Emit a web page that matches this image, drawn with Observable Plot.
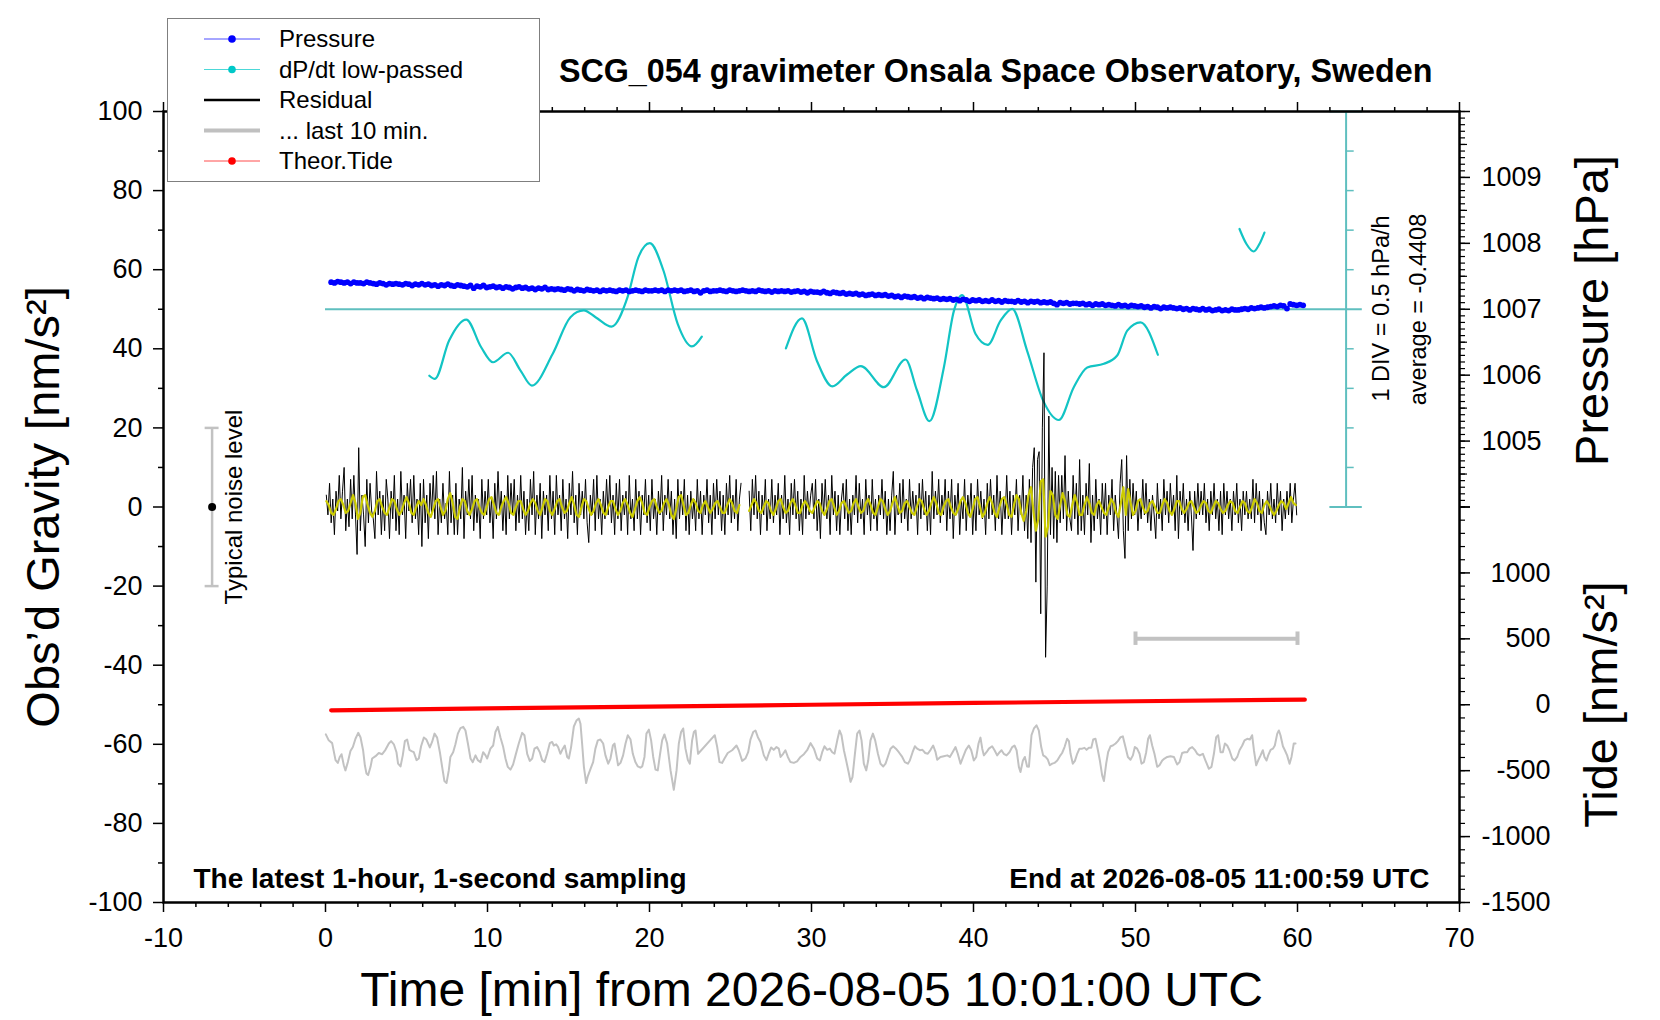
<!DOCTYPE html>
<html>
<head>
<meta charset="utf-8">
<script src="https://cdn.jsdelivr.net/npm/d3@7"></script>
<script src="https://cdn.jsdelivr.net/npm/@observablehq/plot@0.6"></script>
<style>
  body { margin: 0; background: #fff; }
  #wrap { position: relative; width: 1660px; height: 1020px; font-family: "Liberation Sans", Arial, Helvetica, sans-serif; }
  #legend { position: absolute; left: 167px; top: 18px; width: 371px; height: 162px; border: 1px solid #7f7f7f; background: #fff; }
  #legend svg { display: block; }
</style>
</head>
<body>
<div id="wrap"></div>
<script>
// ---------------- DATA ----------------
const titleText = "SCG_054 gravimeter Onsala Space Observatory, Sweden";
const xLabel = "Time [min] from 2026-08-05 10:01:00 UTC";
const yLabel = "Obs\u2019d Gravity [nm/s\u00B2]";
const pressureLabel = "Pressure [hPa]";
const tideLabel = "Tide [nm/s\u00B2]";
const leftNote = "The latest 1-hour, 1-second sampling";
const rightNote = "End at 2026-08-05 11:00:59 UTC";
const divNote = "1 DIV = 0.5 hPa/h";
const avgNote = "average = -0.4408";
const noiseNote = "Typical noise level";

const gravityTicks = [-100, -80, -60, -40, -20, 0, 20, 40, 60, 80, 100];
const gravityMinorTicks = [-90, -70, -50, -30, -10, 10, 30, 50, 70, 90];
const timeTicks = [-10, 0, 10, 20, 30, 40, 50, 60, 70];
const timeMinorTicks = d3.range(-10, 70.01, 2).filter(d => d % 10 !== 0);
const pressureTicks = [1005, 1006, 1007, 1008, 1009];
const pressureEndTicks = [1004, 1010];
const tideTicks = [-1500, -1000, -500, 0, 500, 1000];
const tideEndTicks = [1500];

// right-axis mappings (pressure axis: 1004..1010 hPa spans 0..100; tide axis: -1500..1500 spans -100..0)
const pressureBase = 1004, unitsPerHPa = 50 / 3;
const tideCenter = -50, nmPerUnit = 30;
const dpdtAverage = -0.4408, unitsPerHPaH = 20; // 1 DIV (10 units) = 0.5 hPa/h
const pToY = p => (p - pressureBase) * unitsPerHPa;
const tideToY = g => tideCenter + g / nmPerUnit;
const rateToY = r => 50 + (r - dpdtAverage) * unitsPerHPaH;

// Pressure [hPa], every 0.2 min from 0.35 min
const pressureStart = 0.35, pressureStep = 0.2;
const pressureHPa = [
1007.41,1007.40,1007.42,1007.41,1007.40,1007.41,1007.39,1007.41,1007.40,1007.40,
1007.39,1007.41,1007.40,1007.39,1007.38,1007.40,1007.39,1007.37,1007.39,1007.38,
1007.39,1007.38,1007.37,1007.39,1007.38,1007.36,1007.38,1007.37,1007.39,1007.37,
1007.38,1007.36,1007.37,1007.35,1007.37,1007.36,1007.38,1007.36,1007.35,1007.37,
1007.36,1007.35,1007.34,1007.36,1007.32,1007.35,1007.34,1007.36,1007.33,1007.34,
1007.35,1007.33,1007.34,1007.32,1007.34,1007.33,1007.31,1007.33,1007.34,1007.32,
1007.33,1007.31,1007.32,1007.30,1007.32,1007.31,1007.33,1007.30,1007.31,1007.30,
1007.31,1007.30,1007.29,1007.31,1007.30,1007.28,1007.30,1007.29,1007.28,1007.30,
1007.29,1007.28,1007.29,1007.27,1007.29,1007.28,1007.29,1007.28,1007.27,1007.29,
1007.28,1007.29,1007.27,1007.28,1007.29,1007.28,1007.27,1007.29,1007.28,1007.28,
1007.29,1007.28,1007.29,1007.27,1007.29,1007.28,1007.29,1007.28,1007.29,1007.27,
1007.28,1007.29,1007.27,1007.28,1007.25,1007.28,1007.29,1007.27,1007.28,1007.28,
1007.29,1007.28,1007.27,1007.29,1007.28,1007.27,1007.28,1007.29,1007.28,1007.27,
1007.28,1007.27,1007.29,1007.28,1007.27,1007.28,1007.26,1007.28,1007.27,1007.28,
1007.27,1007.28,1007.26,1007.27,1007.28,1007.26,1007.27,1007.25,1007.27,1007.26,
1007.26,1007.25,1007.27,1007.25,1007.24,1007.26,1007.25,1007.24,1007.25,1007.23,
1007.24,1007.23,1007.24,1007.22,1007.23,1007.21,1007.22,1007.23,1007.21,1007.22,
1007.21,1007.22,1007.20,1007.21,1007.19,1007.20,1007.18,1007.20,1007.19,1007.18,
1007.19,1007.17,1007.18,1007.16,1007.18,1007.17,1007.16,1007.17,1007.15,1007.16,
1007.15,1007.16,1007.14,1007.15,1007.13,1007.15,1007.14,1007.12,1007.14,1007.13,
1007.14,1007.12,1007.13,1007.12,1007.14,1007.12,1007.13,1007.11,1007.13,1007.12,
1007.12,1007.11,1007.13,1007.11,1007.12,1007.10,1007.12,1007.11,1007.12,1007.10,
1007.11,1007.10,1007.11,1007.09,1007.07,1007.10,1007.09,1007.10,1007.08,1007.09,
1007.09,1007.08,1007.09,1007.07,1007.08,1007.06,1007.08,1007.07,1007.08,1007.06,
1007.07,1007.06,1007.05,1007.07,1007.05,1007.06,1007.04,1007.06,1007.05,1007.04,
1007.05,1007.03,1007.04,1007.02,1007.04,1007.03,1007.01,1007.03,1007.02,1007.03,
1007.02,1007.01,1007.02,1007.00,1007.01,1006.99,1007.01,1007.00,1006.99,1007.01,
1006.99,1007.00,1006.98,1006.99,1007.00,1006.98,1006.99,1006.98,1007.00,1006.99,
1006.99,1007.00,1007.01,1007.00,1007.02,1007.01,1007.02,1007.03,1007.02,1007.03,
1007.04,1007.05,1007.04,1007.06,1007.05,1007.01,1007.08,1007.07,1007.06,1007.07,
1007.06
];

// dP/dt low-passed [hPa/h], three segments of [time min, rate]
const dpdtSeg1 = [[6.41,-1.281],[6.75,-1.321],[7.63,-0.836],[8.69,-0.571],[9.61,-0.921],[10.34,-1.111],[11.27,-0.991],[12.04,-1.216],[12.74,-1.406],[14.02,-1.006],[15.12,-0.541],[15.94,-0.456],[16.67,-0.541],[17.66,-0.661],[18.64,-0.291],[19.31,0.214],[20.02,0.394],[20.86,0.049],[21.74,-0.626],[22.62,-0.911],[23.23,-0.786]];
const dpdtSeg2 = [[28.42,-0.936],[29.41,-0.556],[30.33,-1.091],[31.28,-1.416],[32.2,-1.266],[33.05,-1.161],[34.47,-1.426],[35.8,-1.076],[36.52,-1.471],[37.28,-1.856],[38.17,-1.176],[38.79,-0.461],[39.3,-0.261],[40.12,-0.751],[40.88,-0.891],[41.67,-0.586],[42.39,-0.436],[43.31,-0.966],[44.3,-1.596],[45.27,-1.841],[46.19,-1.426],[47.02,-1.176],[48.05,-1.131],[48.87,-1.026],[49.49,-0.711],[50.31,-0.606],[51.38,-1.016]];
const dpdtSeg3 = [[56.42,0.574],[56.85,0.384],[57.3,0.289],[57.65,0.384],[57.96,0.529]];

// Residual [nm/s^2], every 0.1 min from 0.05 min (null = data gap)
const residualStart = 0.05, residualStep = 0.1;
const residual = [
3,-2,6,-4,2,-7,4,-1,8,-3,4,10,-6,2,-5,7,-3,8,-2,-12,
15,-6,3,-2,-10,7,-4,6,-1,-3,-8,9,-2,4,-7,3,-6,7,2,-8,
4,-3,8,-6,2,-7,9,-2,3,-8,6,-1,7,-4,8,-3,2,-7,6,-10,
7,-4,3,-8,6,-2,8,-3,9,-7,2,-4,6,-3,1,-7,9,-4,3,-7,
6,-7,2,-3,10,-8,4,-2,7,-3,8,-6,3,-4,2,-8,7,-3,4,-2,
7,-4,2,-8,6,-3,9,-2,4,-6,3,-7,8,-3,6,-2,7,-6,3,-4,
8,-3,4,-7,2,-6,7,-2,9,-7,3,-3,6,-8,4,-2,3,-6,8,-3,
4,-7,8,-2,3,-6,7,-3,2,-8,6,-2,9,-4,3,-7,6,-2,4,-3,
7,-4,-9,3,-2,7,-6,8,-3,2,-7,4,-3,7,-2,8,-4,3,-7,6,
-3,7,-6,3,-2,4,-7,8,-3,2,-6,7,-3,4,-7,3,-2,7,-4,3,
-6,7,-3,2,-7,4,-2,8,-6,3,-2,7,-3,4,-7,2,-8,7,-3,4,
-2,7,-6,3,-7,4,-3,2,-6,7,-3,4,-7,3,-2,7,-4,3,-7,6,
-3,7,-2,4,-6,3,-7,6,-2,8,-4,3,-3,7,-6,2,6,null,null,null,
null,4,-6,7,-2,8,-3,4,-7,3,-2,7,-6,2,-3,7,-4,3,-2,6,
-7,3,-3,8,-4,2,-7,6,-2,7,-3,4,-6,2,-7,8,-3,4,-2,3,
6,-3,7,-6,2,-8,6,-2,7,-3,3,-7,8,-2,4,-6,3,-7,2,6,
-3,7,-6,2,-7,3,-2,8,-4,6,-3,2,-7,7,-2,3,-6,7,-3,2,
-6,3,-2,7,-3,4,-7,2,-6,3,9,-7,3,-2,6,-4,7,-3,2,-6,
7,-3,4,-2,3,-7,6,-3,7,-2,4,-6,3,-7,9,-3,4,-2,7,-4,
3,-2,7,-6,4,-3,7,-8,3,-2,6,-7,2,-3,7,-6,3,-2,6,-7,
3,-6,7,-2,4,-3,2,-7,6,-3,7,-2,3,-6,8,-3,4,-7,2,-3,
8,-3,4,-7,3,-2,7,-6,3,-2,8,-6,3,-8,7,-9,10,15,-19,12,
14,-27,20,39,-38,-20,23,-7,10,-8,9,-9,8,-4,8,-3,13,-6,4,-3,
-6,8,-3,6,-7,12,-6,3,-7,6,-2,11,-9,3,-6,7,-3,2,-7,6,
-3,6,-7,3,-2,7,-6,3,-2,-8,6,12,-6,-13,13,-6,7,-3,6,-2,
4,-6,2,-3,7,-2,6,-4,2,-6,3,-2,-8,6,-3,2,-6,7,-2,4,
-4,6,-2,3,-6,8,-8,4,-2,6,-4,2,-6,4,-2,-11,4,-3,6,-2,
4,-2,6,-4,2,-6,4,-2,6,-3,2,-6,4,-7,6,-2,4,-3,2,-6,
4,-2,6,-4,2,-6,4,-2,4,-3,2,-3,7,-4,6,-2,4,-6,2,-4,
-7,4,-2,6,-3,2,-4,6,-2,4,-6,2,-3,4,-2,6,-4,2,6,-2
];

// Smoothed residual [nm/s^2] (yellow), every 0.15 min from 0.05 min
const smoothStart = 0.05, smoothStep = 0.15;
const smoothed = [
1.5,0.5,-1.5,-2,-0.5,1.5,2,0.5,-1.5,-1,1,3,1,-3,-1.5,2.5,3,0.5,-1.5,-2.5,
-1,1.5,2,0,-1.5,-2,0,2,1.5,-0.5,-2,-1,1,2.5,1,-1.5,-2,0,1.5,0.5,
2,0.5,-1.5,-2.5,-0.5,1.5,2,0,-2,-1,2,3.5,1,-2.5,-3,0,2,1.5,-1,-2,
-0.5,1.5,2,0,-1.5,-2,0,2,2.5,0.5,-1.5,-2,0,1.5,2.5,1,-1.5,-2,0,1.5,
1.5,-0.5,-2,-1,1,2,1,-1,-2,0,2,1.5,-1,-2,-0.5,1.5,2,0,-1.5,-1,
1,2.5,0.5,-2,-2.5,0,2,1.5,-0.5,-2,-1,1,2,0.5,-1.5,-2,0,1.5,1.5,-0.5,
-2,-1,1,2,0.5,-1.5,-2.5,-0.5,1.5,2.5,1,-1.5,-2,0,1.5,2,0,-1.5,-1,1,
2,0.5,-2,-3,-0.5,2.5,3,0.5,-2,-1.5,0.5,2,1,-1,-1.5,0.5,1.5,0,-1.5,-0.5,
1,1.5,0,-1.5,-1.5,0.5,2,1,-1,-1.5,0.5,null,null,null,-1,0.5,2,1,-1,-1.5,
0,1.5,1,-1,-2,-0.5,1.5,2,0,-1.5,-1,1,2,0.5,-1.5,-1.5,0.5,1.5,0.5,-1,
-1.5,0,1.5,1,-1,-2,-0.5,1.5,2,0,-2,-1,1,1.5,0,-1.5,-1,1,2,0,
-1.5,-1,1,2,0.5,-1.5,-2,0,2,1.5,-0.5,-2,-1,1,2.5,0.5,-1.5,-1,1,1.5,
0,-1.5,-2,0,2,1.5,-0.5,-2,-1,1,2.5,1,-1.5,-2,0,1.5,2,0,-1.5,-2,
-0.5,1.5,2.5,1,-1.5,-2.5,-0.5,2,2.5,0,-2.5,-1.5,1,2.5,1,-1.5,-2.5,0,2,2.5,
0.5,-2,-2.5,0.5,3,2,-1.5,-3.5,-1,3,5,-1,-6,-3,6.5,7,-7.5,-5,4,3,
-2,-3,0.5,3.5,1.5,-2,-2.5,0.5,3,1,-2,-2,0.5,2.5,1,-1.5,-2,0.5,1.5,0,
-1.5,-2,0,2,1,-1.5,-2.5,1,5,-2,4.5,1,-2,-1,1.5,2,0,-1.5,-1,1,
1.5,0,-1.5,-1.5,0.5,2,1,-1,-2,-0.5,1.5,1.5,-0.5,-1.5,-0.5,1,1.5,0,-1.5,-1,
0.5,1.5,1,-1,-1.5,0,1.5,1,-0.5,-1.5,-1,0.5,1.5,1,-1,-1.5,0,1.5,1,-1,
-1.5,0,2,1,-1,-1.5,0.5,1.5,0.5,-1,-2,-1,0.5,1.5,1,-0.5,1,2.5,1,0.5
];

// "... last 10 min." residual, stretched over the hour: [time min, nm/s^2 in plot units]
const last10 = [
[0.02,-57.5],[0.20,-59.0],[0.41,-59.7],[0.62,-64.0],[0.76,-64.7],[0.88,-63.2],[0.99,-62.5],[1.13,-65.3],[1.23,-66.6],[1.38,-64.5],[1.54,-61.7],[1.69,-60.7],[1.85,-58.6],[2.02,-57.1],[2.16,-58.2],[2.32,-61.5],[2.43,-65.3],[2.53,-67.4],[2.63,-67.8],[2.78,-65.7],[2.88,-63.6],[3.09,-63.0],[3.29,-62.2],[3.50,-62.5],[3.70,-61.4],[3.91,-59.8],[4.05,-59.2],[4.22,-60.0],[4.38,-62.0],[4.48,-64.9],[4.63,-65.6],[4.77,-62.8],[4.90,-59.2],[5.04,-58.8],[5.18,-61.4],[5.31,-61.7],[5.45,-62.0],[5.62,-64.0],[5.76,-63.6],[5.90,-60.5],[6.07,-58.3],[6.23,-58.8],[6.44,-60.8],[6.58,-59.4],[6.73,-57.3],[6.89,-58.3],[7.06,-62.0],[7.20,-65.7],[7.34,-69.3],[7.47,-69.8],[7.61,-66.6],[7.71,-63.2],[7.88,-62.0],[8.02,-60.0],[8.17,-57.3],[8.33,-55.9],[8.50,-55.6],[8.64,-56.5],[8.79,-59.8],[8.95,-63.6],[9.09,-64.5],[9.26,-62.8],[9.40,-64.0],[9.57,-64.5],[9.73,-62.0],[9.88,-62.8],[9.98,-63.6],
[10.18,-61.1],[10.35,-60.3],[10.49,-56.9],[10.64,-55.6],[10.80,-58.3],[10.97,-60.7],[11.11,-63.6],[11.25,-65.7],[11.42,-66.4],[11.58,-65.1],[11.73,-62.8],[11.93,-59.8],[12.14,-57.1],[12.28,-57.7],[12.45,-62.4],[12.61,-64.2],[12.76,-63.6],[12.90,-61.1],[13.06,-60.7],[13.23,-62.0],[13.37,-64.0],[13.52,-64.5],[13.68,-62.4],[13.85,-59.7],[13.99,-59.4],[14.09,-60.3],[14.24,-60.0],[14.36,-60.7],[14.50,-62.4],[14.65,-61.1],[14.77,-60.3],[14.92,-63.2],[15.02,-63.6],[15.16,-60.7],[15.33,-55.5],[15.49,-54.0],[15.64,-53.5],[15.74,-54.8],[15.84,-59.8],[15.95,-65.7],[16.09,-69.8],[16.19,-68.1],[16.36,-66.2],[16.52,-64.5],[16.66,-61.1],[16.81,-59.0],[16.97,-58.8],[17.14,-59.8],[17.28,-62.8],[17.45,-64.9],[17.59,-63.6],[17.74,-60.3],[17.84,-59.8],[17.96,-62.8],[18.06,-65.3],[18.21,-64.7],[18.37,-62.8],[18.52,-59.8],[18.66,-57.7],[18.83,-58.8],[18.97,-62.4],[19.13,-64.5],[19.28,-65.6],[19.44,-65.9],[19.55,-65.6],[19.69,-63.2],[19.81,-57.3],[19.96,-56.3],
[20.10,-59.0],[20.23,-63.2],[20.37,-66.4],[20.51,-66.6],[20.64,-62.8],[20.78,-59.0],[20.92,-57.5],[21.09,-59.8],[21.30,-66.6],[21.50,-71.5],[21.67,-66.6],[21.81,-59.8],[21.95,-56.9],[22.08,-56.0],[22.22,-61.1],[22.37,-64.0],[22.49,-64.9],[22.63,-59.0],[22.74,-56.9],[22.84,-56.5],[23.00,-62.4],[24.03,-57.7],[24.18,-60.7],[24.32,-64.5],[24.48,-64.7],[24.63,-63.6],[24.83,-62.2],[25.10,-61.5],[25.37,-60.3],[25.51,-61.5],[25.72,-64.2],[25.92,-63.6],[26.09,-62.0],[26.23,-58.8],[26.40,-56.9],[26.54,-56.5],[26.69,-58.2],[26.85,-59.4],[27.06,-62.8],[27.22,-64.0],[27.37,-62.2],[27.51,-60.8],[27.67,-61.4],[27.84,-60.7],[27.98,-61.1],[28.09,-63.2],[28.25,-62.4],[28.39,-61.5],[28.54,-63.2],[28.70,-64.5],[28.91,-64.7],[29.11,-64.3],[29.32,-63.2],[29.53,-62.5],[29.73,-61.5],[29.94,-59.7],
[30.15,-61.1],[30.35,-63.6],[30.52,-64.1],[30.66,-62.0],[30.80,-60.5],[30.97,-61.4],[31.13,-61.1],[31.28,-62.0],[31.42,-62.4],[31.59,-59.0],[31.73,-56.5],[31.85,-57.7],[32.00,-61.5],[32.14,-64.1],[32.31,-67.4],[32.41,-69.5],[32.53,-68.3],[32.68,-62.4],[32.82,-57.3],[32.96,-56.5],[33.09,-59.0],[33.23,-64.9],[33.38,-66.6],[33.50,-64.1],[33.64,-59.0],[33.79,-57.3],[33.93,-59.0],[34.10,-62.4],[34.26,-64.9],[34.43,-65.6],[34.57,-64.9],[34.71,-63.2],[34.88,-61.1],[35.04,-60.5],[35.21,-61.1],[35.39,-62.0],[35.60,-63.2],[35.76,-64.5],[35.95,-64.9],[36.07,-64.1],[36.24,-62.0],[36.38,-60.5],[36.52,-61.1],[36.69,-61.5],[36.85,-61.4],[37.02,-62.2],[37.18,-62.4],[37.35,-61.4],[37.51,-60.3],[37.66,-62.0],[37.76,-63.9],[37.96,-63.2],[38.17,-63.0],[38.38,-62.8],[38.54,-63.2],[38.71,-62.0],[38.89,-60.7],[39.03,-62.4],[39.20,-64.9],[39.36,-63.2],[39.53,-61.4],[39.71,-60.3],[39.86,-61.5],
[40.02,-64.1],[40.17,-63.2],[40.31,-59.8],[40.43,-58.3],[40.54,-61.1],[40.64,-62.8],[40.80,-62.0],[40.95,-61.1],[41.15,-60.5],[41.30,-61.5],[41.46,-62.8],[41.61,-62.0],[41.73,-61.5],[41.87,-62.4],[42.04,-62.8],[42.22,-62.0],[42.39,-60.7],[42.53,-60.3],[42.66,-61.5],[42.80,-65.7],[42.90,-67.0],[43.05,-64.1],[43.17,-63.2],[43.31,-65.6],[43.42,-65.7],[43.58,-57.7],[43.73,-56.0],[43.89,-55.2],[44.03,-56.5],[44.18,-60.7],[44.30,-62.8],[44.45,-63.2],[44.59,-63.9],[44.71,-65.3],[44.86,-64.9],[45.00,-64.7],[45.17,-64.1],[45.33,-63.0],[45.47,-62.2],[45.62,-60.7],[45.78,-58.6],[45.89,-59.2],[45.99,-62.4],[46.13,-64.9],[46.26,-64.2],[46.40,-62.4],[46.54,-61.1],[46.71,-61.1],[46.85,-60.9],[46.98,-61.4],[47.12,-60.9],[47.27,-60.9],[47.39,-58.8],[47.53,-58.6],[47.68,-61.5],[47.80,-64.1],[47.94,-67.8],[48.05,-69.3],[48.19,-64.9],[48.31,-62.0],[48.46,-60.5],[48.60,-60.3],[48.77,-59.8],[48.91,-59.2],[49.08,-58.2],[49.22,-58.0],[49.38,-60.7],[49.53,-63.2],[49.69,-63.9],[49.84,-62.8],[49.96,-60.7],
[50.10,-61.1],[50.25,-62.4],[50.37,-64.9],[50.52,-64.5],[50.66,-62.0],[50.78,-58.6],[50.89,-57.7],[51.03,-60.3],[51.17,-62.4],[51.34,-65.7],[51.48,-65.3],[51.65,-64.1],[51.79,-63.6],[51.96,-63.2],[52.16,-63.0],[52.37,-63.2],[52.57,-65.1],[52.72,-64.5],[52.88,-62.2],[53.03,-62.0],[53.19,-62.0],[53.33,-61.1],[53.50,-60.7],[53.66,-61.4],[53.81,-62.4],[53.97,-62.8],[54.16,-62.4],[54.32,-64.1],[54.53,-66.2],[54.69,-65.7],[54.84,-62.4],[54.98,-58.2],[55.10,-57.7],[55.25,-62.0],[55.39,-62.0],[55.52,-59.8],[55.66,-60.3],[55.80,-61.5],[55.97,-63.6],[56.11,-64.1],[56.28,-63.2],[56.42,-61.5],[56.59,-60.3],[56.73,-59.0],[56.90,-58.6],[57.06,-58.8],[57.20,-57.7],[57.31,-61.5],[57.45,-65.3],[57.57,-64.1],[57.72,-62.8],[57.86,-61.5],[57.96,-63.2],[58.09,-64.1],[58.19,-62.8],[58.34,-61.4],[58.48,-61.1],[58.60,-60.3],[58.75,-57.3],[58.85,-56.5],[58.95,-57.7],[59.10,-60.5],[59.22,-61.5],[59.36,-62.8],[59.51,-64.9],[59.63,-63.2],[59.77,-59.8],[59.88,-59.8]
];

// Theoretical tide [nm/s^2]
const tideTimes = [0.35, 10, 20, 30, 40, 50, 60.45];
const tideValues = [-42, -28, -14, 0, 13.5, 26.5, 39];

// annotation anchors
const noiseX = -7, noiseRange = [-20, 20], noiseCenter = 0;
const last10Span = [50, 60], last10Level = -33.3;
const dpdtAxisX = 63, dpdtAxisSpan = [62, 64], dpdtAxisEnds = [0, 100], dpdtCenter = 50;
const dpdtTicks = [10, 20, 30, 40, 60, 70, 80, 90];

// ---------------- BUILD ----------------
const FONT = '"Liberation Sans", Arial, Helvetica, sans-serif';
const CYAN = "#12c4c4", CYAN_AXIS = "#5fbfbf", GRAY = "#c2c2c2";
const plain = d => String(d);

const pressureData = pressureHPa.map((p, i) => ({t: pressureStart + i * pressureStep, y: pToY(p)}));
const residualData = residual.map((v, i) => ({t: residualStart + i * residualStep, y: v}));
const smoothData = smoothed.map((v, i) => ({t: smoothStart + i * smoothStep, y: v}));
const last10Data = last10.map(([t, v]) => ({t, y: v}));
const tideData = tideTimes.map((t, i) => ({t, y: tideToY(tideValues[i])}));
const dpdtData = [dpdtSeg1, dpdtSeg2, dpdtSeg3].flatMap((seg, k) => seg.map(([t, r]) => ({t, y: rateToY(r), seg: k})));

const pressureMinor = d3.range(0, 61).map(i => pToY(pressureBase + i / 10));
const pressureHalf = d3.range(0, 6).map(i => pToY(pressureBase + 0.5 + i));
const tideMinor = d3.range(-1500, 1501, 100).map(tideToY);

const chart = Plot.plot({
  width: 1660, height: 1020,
  marginLeft: 163, marginRight: 201, marginTop: 111, marginBottom: 118,
  x: {domain: [-10, 70], label: null},
  y: {domain: [-100, 100], label: null},
  style: {fontFamily: FONT, fontSize: "27px", color: "black", background: "white", overflow: "visible"},
  marks: [
    // dP/dt reference axis (cyan)
    Plot.ruleY([dpdtCenter], {x1: 0, x2: dpdtAxisSpan[1], stroke: CYAN_AXIS, strokeWidth: 2}),
    Plot.ruleX([dpdtAxisX], {y1: dpdtAxisEnds[0], y2: dpdtAxisEnds[1], stroke: CYAN_AXIS, strokeWidth: 2}),
    Plot.ruleY(dpdtAxisEnds, {x1: dpdtAxisSpan[0], x2: dpdtAxisSpan[1], stroke: CYAN_AXIS, strokeWidth: 2}),
    Plot.ruleY(dpdtTicks, {x1: dpdtAxisX, x2: dpdtAxisX + 0.5, stroke: CYAN_AXIS, strokeWidth: 1.5}),
    Plot.line(dpdtData, {x: "t", y: "y", z: "seg", stroke: CYAN, strokeWidth: 2.2, curve: "monotone-x"}),
    // pressure
    Plot.line(pressureData, {x: "t", y: "y", stroke: "#0000ff", strokeWidth: 0.8}),
    Plot.dot(pressureData, {x: "t", y: "y", r: 2.9, fill: "#0000ff"}),
    // residual + smoothed
    Plot.line(residualData, {x: "t", y: "y", stroke: "black", strokeWidth: 1}),
    Plot.line(smoothData, {x: "t", y: "y", stroke: "#cccc00", strokeWidth: 2.2}),
    // tide
    Plot.line(tideData, {x: "t", y: "y", stroke: "#ff0000", strokeWidth: 4.2}),
    // last 10 min
    Plot.line(last10Data, {x: "t", y: "y", stroke: GRAY, strokeWidth: 2}),
    Plot.ruleY([last10Level], {x1: last10Span[0], x2: last10Span[1], stroke: GRAY, strokeWidth: 4}),
    Plot.ruleX(last10Span, {y1: last10Level - 1.7, y2: last10Level + 1.7, stroke: GRAY, strokeWidth: 4}),
    // typical noise level
    Plot.ruleX([noiseX], {y1: noiseRange[0], y2: noiseRange[1], stroke: GRAY, strokeWidth: 2.5}),
    Plot.ruleY(noiseRange, {x1: noiseX - 0.43, x2: noiseX + 0.43, stroke: GRAY, strokeWidth: 2.5}),
    Plot.dot([{t: noiseX, y: noiseCenter}], {x: "t", y: "y", r: 4, fill: "black"}),
    // frame + axes
    Plot.frame({stroke: "black", strokeWidth: 2.5}),
    Plot.axisY(gravityTicks, {anchor: "left", tickSize: 10, tickPadding: 11, strokeWidth: 1.5, label: null, tickFormat: plain}),
    Plot.axisY(gravityMinorTicks, {anchor: "left", tickSize: 5, strokeWidth: 1.5, fill: "none", label: null}),
    Plot.axisX(timeTicks, {anchor: "bottom", tickSize: 10, tickPadding: 15, strokeWidth: 1.5, label: null, tickFormat: plain}),
    Plot.axisX(timeMinorTicks, {anchor: "bottom", tickSize: 5, strokeWidth: 1.5, fill: "none", label: null}),
    Plot.axisX(timeTicks, {anchor: "top", tickSize: 10, strokeWidth: 1.5, fill: "none", label: null}),
    Plot.axisX(timeMinorTicks, {anchor: "top", tickSize: 5, strokeWidth: 1.5, fill: "none", label: null}),
    Plot.axisY(pressureMinor, {anchor: "right", tickSize: 5, strokeWidth: 1.2, fill: "none", label: null}),
    Plot.axisY(pressureHalf, {anchor: "right", tickSize: 7, strokeWidth: 1.2, fill: "none", label: null}),
    Plot.axisY(pressureEndTicks.map(pToY), {anchor: "right", tickSize: 10, strokeWidth: 1.5, fill: "none", label: null}),
    Plot.axisY(pressureTicks.map(pToY), {anchor: "right", tickSize: 10, tickPadding: 12, strokeWidth: 1.5, label: null,
      tickFormat: y => String(Math.round(pressureBase + y / unitsPerHPa))}),
    Plot.axisY(tideMinor, {anchor: "right", tickSize: 5, strokeWidth: 1.2, fill: "none", label: null}),
    Plot.axisY(tideEndTicks.map(tideToY), {anchor: "right", tickSize: 10, strokeWidth: 1.5, fill: "none", label: null}),
    Plot.axisY(tideTicks.map(tideToY), {anchor: "right", tickSize: 10, tickPadding: 81, textAnchor: "end", strokeWidth: 1.5, label: null,
      tickFormat: y => String(Math.round((y - tideCenter) * nmPerUnit))}),
    // texts
    Plot.text([titleText], {frameAnchor: "top-right", textAnchor: "end", lineAnchor: "middle", dx: -27, dy: -40, fontSize: 32.3, fontWeight: "bold"}),
    Plot.text([leftNote], {frameAnchor: "bottom-left", textAnchor: "start", lineAnchor: "middle", dx: 30, dy: -23, fontSize: 28, fontWeight: "bold"}),
    Plot.text([rightNote], {frameAnchor: "bottom-right", textAnchor: "end", lineAnchor: "middle", dx: -30, dy: -23, fontSize: 28, fontWeight: "bold"}),
    Plot.text([xLabel], {frameAnchor: "bottom", textAnchor: "middle", lineAnchor: "middle", dy: 88, fontSize: 48}),
    Plot.text([yLabel], {frameAnchor: "left", textAnchor: "middle", lineAnchor: "middle", rotate: -90, dx: -120, fontSize: 47}),
    Plot.text([pressureLabel], {frameAnchor: "top-right", textAnchor: "middle", lineAnchor: "middle", rotate: -90, dx: 133, dy: 199, fontSize: 47}),
    Plot.text([tideLabel], {frameAnchor: "bottom-right", textAnchor: "middle", lineAnchor: "middle", rotate: -90, dx: 142, dy: -198, fontSize: 47}),
    Plot.text([divNote], {frameAnchor: "top-right", textAnchor: "middle", lineAnchor: "middle", rotate: -90, dx: -78.5, dy: 197, fontSize: 23.5}),
    Plot.text([avgNote], {frameAnchor: "top-right", textAnchor: "middle", lineAnchor: "middle", rotate: -90, dx: -41.5, dy: 198, fontSize: 23.5}),
    Plot.text([noiseNote], {frameAnchor: "left", textAnchor: "middle", lineAnchor: "middle", rotate: -90, dx: 70.6, fontSize: 24})
  ]
});

const wrap = document.getElementById("wrap");
wrap.appendChild(chart);

// ---------------- LEGEND ----------------
const legendItems = [
  {label: "Pressure", color: "#0000ff", width: 1, dot: true},
  {label: "dP/dt low-passed", color: "#00c8c8", width: 1, dot: true},
  {label: "Residual", color: "#000000", width: 2.5, dot: false},
  {label: "... last 10 min.", color: "#c0c0c0", width: 4, dot: false},
  {label: "Theor.Tide", color: "#ff0000", width: 1, dot: true}
];
const legend = d3.select(wrap).append("div").attr("id", "legend");
const lsvg = legend.append("svg").attr("width", 371).attr("height", 162)
  .style("font-family", FONT).style("font-size", "24px");
const rows = lsvg.selectAll("g").data(legendItems).join("g")
  .attr("transform", (d, i) => `translate(0,${20 + i * 30.5})`);
rows.append("line").attr("x1", 36).attr("x2", 92).attr("y1", 0).attr("y2", 0)
  .attr("stroke", d => d.color).attr("stroke-width", d => d.width).attr("stroke-opacity", d => d.dot ? 0.7 : 1);
rows.filter(d => d.dot).append("circle").attr("cx", 64).attr("cy", 0).attr("r", 3.8).attr("fill", d => d.color);
rows.append("text").attr("x", 111).attr("y", 0).attr("dy", "0.35em").attr("fill", "black").text(d => d.label);
</script>
</body>
</html>
